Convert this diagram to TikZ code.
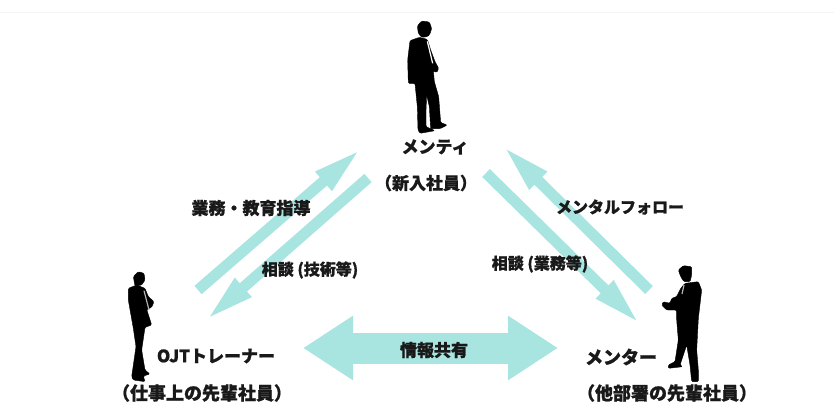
\documentclass[tikz,border=0pt]{standalone}
\usepackage{fontspec}
\usepackage{tikz}
\usetikzlibrary{arrows.meta,positioning}
\newfontfamily\jpfont[BoldFeatures={FakeBold=1}]{Noto Sans CJK JP}
\definecolor{flowcol}{HTML}{A8E4E0}
\definecolor{faint}{gray}{0.96}
\definecolor{shirt}{gray}{0.7}
\tikzset{flow/.style={draw=flowcol,line width=11pt,-{Triangle[length=51pt,width=22pt]}},
bothflow/.style={draw=flowcol,line width=31pt,{Triangle[length=50pt,width=61pt]}-{Triangle[length=50pt,width=61pt]}},
lbl/.style={font=\jpfont\bfseries\fontsize{17}{18}\selectfont,inner sep=0pt,text=black!90},
lblsmall/.style={font=\jpfont\bfseries\fontsize{16}{18}\selectfont,inner sep=0pt,text=black!90},
lblbig/.style={font=\jpfont\bfseries\fontsize{18}{19}\selectfont,inner sep=0pt,text=black!90},
person/.style={fill=black,draw=black,line width=.4pt,line join=round,rounded corners=1.2pt}}

\begin{document}
\begin{tikzpicture}[x=1pt,y=-1pt]
\useasboundingbox (0,0) rectangle (834,405);

% faint line on top
\draw[faint,line width=1pt] (0,12) -- (834,12);

% Arrow ends
\coordinate (upTail) at (198,290); \coordinate (upTip) at (362,148);
\coordinate (downTail) at (368,178); \coordinate (downTip) at (205,321);
\coordinate (menTail) at (649,290); \coordinate (menTip) at (502,145);
\coordinate (askTail) at (486,173); \coordinate (askTip) at (641,325);
\coordinate (shareL) at (303,348); \coordinate (shareR) at (558,348);

% Arrows
\draw[flow] (upTail) -- (upTip);
\draw[flow] (downTail) -- (downTip);
\draw[flow] (menTail) -- (menTip);
\draw[flow] (askTail) -- (askTip);
\draw[bothflow] (shareL) -- (shareR);

% Top man
\begin{scope}[shift={(340,0)},scale=1/3]
\fill[person] (232,78) -- (245,63) -- (268,66) -- (275,85) -- (270,102) -- (262,110) -- (245,112) -- (235,100) -- cycle;
\fill[person] (210,122) -- (238,112) -- (262,118) -- (272,150) -- (285,185) -- (296,205) -- (290,218) -- (280,212) -- (283,245) -- (296,290) -- (302,368) -- (322,375) -- (300,386) -- (272,386) -- (268,320) -- (260,285) -- (258,330) -- (258,380) -- (285,392) -- (240,400) -- (234,390) -- (232,320) -- (225,250) -- (205,250) -- (203,180) -- cycle;
\draw[white,line width=1.2pt] (262,124) -- (278,190);
\end{scope}

% Left man
\begin{scope}[shift={(100,250)},scale=1/3]
\fill[person] (100,80) -- (115,65) -- (132,70) -- (135,90) -- (125,105) -- (105,108) -- cycle;
\fill[person] (85,115) -- (110,105) -- (135,115) -- (145,140) -- (162,155) -- (155,172) -- (140,178) -- (155,225) -- (135,232) -- (125,300) -- (135,360) -- (150,372) -- (130,378) -- (135,395) -- (100,390) -- (95,380) -- (108,290) -- (100,235) -- (92,190) -- (85,150) -- cycle;
\draw[shirt,line width=1.2pt] (132,122) -- (147,180);
\end{scope}

% Right man
\begin{scope}[shift={(560,250)},scale=1/3]
\fill[person] (355,60) -- (370,47) -- (395,50) -- (395,75) -- (390,95) -- (372,95) -- (362,80) -- cycle;
\fill[person] (375,100) -- (415,95) -- (425,120) -- (415,205) -- (410,300) -- (415,360) -- (415,395) -- (395,395) -- (390,345) -- (380,285) -- (360,345) -- (368,350) -- (325,355) -- (325,345) -- (345,335) -- (355,270) -- (350,210) -- (350,180) -- (320,180) -- (305,165) -- (310,155) -- (330,160) -- (335,145) -- (350,140) -- (362,115) -- cycle;
\draw[shirt,line width=1.2pt] (372,105) -- (366,132);
\end{scope}

% Labels
\node[lbl] (mentee) at (435,147) {メンティ};
\node[lbl] (newhire) at (426,183) {（新入社員）};
\node[lbl] (guide) at (251,208) {業務・教育指導};
\node[lblsmall] (askTech) at (310,270) {相談 (技術等)};
\node[lblsmall] (follow) at (620,207) {メンタルフォロー};
\node[lblsmall] (askWork) at (540,264) {相談 (業務等)};
\node[lbl] (share) at (434,350) {情報共有};
\node[lbl] (trainer) at (216,356) {OJTトレーナー};
\node[lblbig] (senior1) at (202,393) {（仕事上の先輩社員）};
\node[lblbig] (mentor) at (621,357) {メンター};
\node[lblbig] (senior2) at (667,393) {（他部署の先輩社員）};

\end{tikzpicture}
\end{document}
